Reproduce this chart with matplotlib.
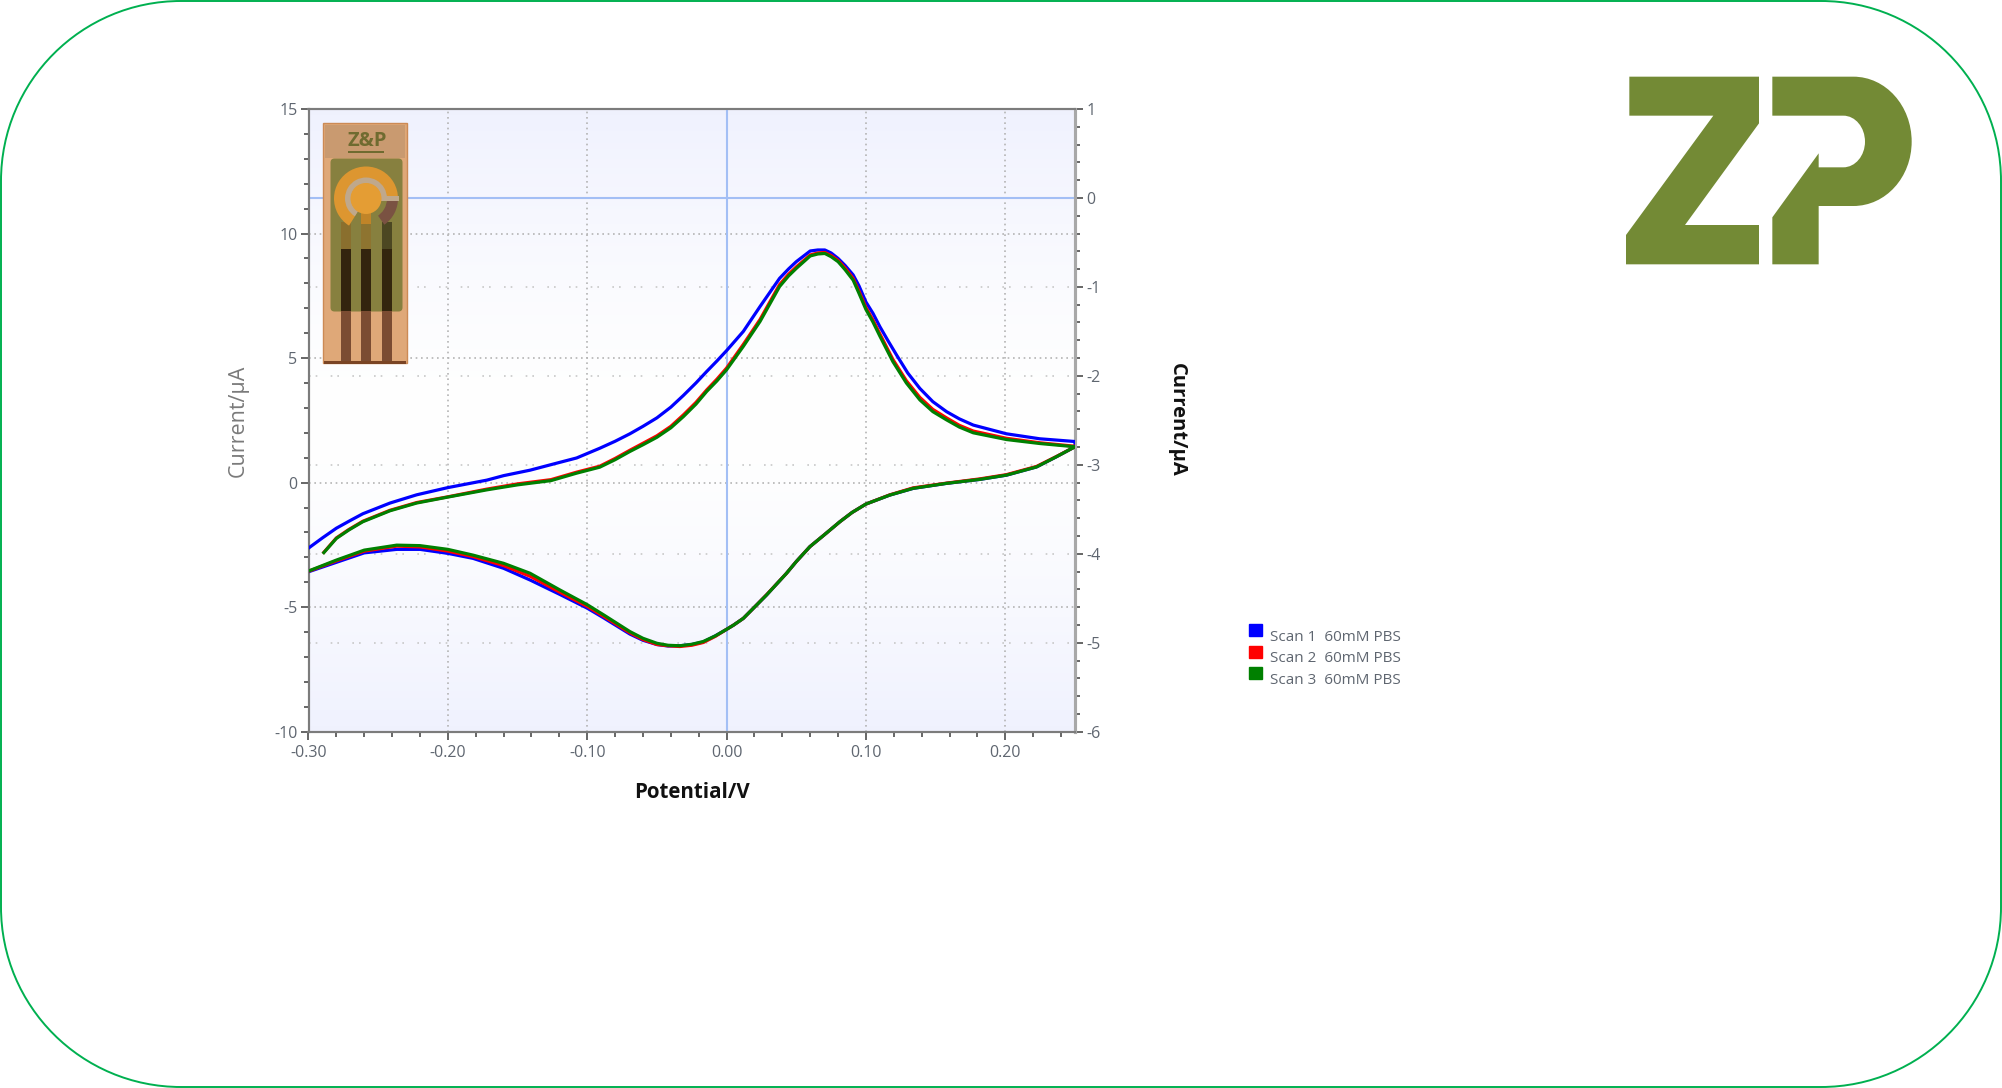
import numpy as np
import matplotlib
matplotlib.use('Agg')
import matplotlib.pyplot as plt
from matplotlib.patches import FancyBboxPatch, Rectangle, Circle, Wedge, Patch, PathPatch
from matplotlib.path import Path

W, H = 2002, 1088

# forward sweeps
blue_up_x = [-.3, -.29, -.28, -.27, -.261, -.2415, -.2224, -.2, -.172, -.16, -.141, -.122, -.1076,
             -.091, -.08, -.0694, -.06, -.05, -.04, -.031, -.022, -.0143, -.007, 0, .012, .024,
             .038, .0445, .05, .06, .0655, .0705, .075, .08, .085, .0908, .095, .1, .105, .11,
             .116, .122, .13, .1387, .148, .1578, .167, .177, .2008, .2247, .25]
blue_up_y = [-2.63, -2.22, -1.83, -1.52, -1.25, -.82, -.49, -.2, .1, .28, .5, .78, .99,
             1.38, 1.66, 1.96, 2.26, 2.6, 3.03, 3.5, 4.0, 4.46, 4.88, 5.3, 6.07, 7.07,
             8.2, 8.58, 8.87, 9.3, 9.34, 9.34, 9.22, 9.0, 8.72, 8.34, 7.9, 7.25, 6.8, 6.26,
             5.68, 5.12, 4.4, 3.78, 3.25, 2.85, 2.56, 2.31, 1.96, 1.76, 1.65]
rg_up_x = [-.289, -.28, -.271, -.261, -.2415, -.2224, -.2, -.172, -.15, -.126, -.1076, -.091,
           -.08, -.0694, -.06, -.05, -.04, -.031, -.022, -.0143, -.007, 0, .012, .024, .038,
           .0445, .05, .06, .0655, .0705, .075, .08, .085, .0908, .095, .1, .105, .11, .1193,
           .129, .1387, .148, .1578, .167, .177, .2008, .2247, .25]
red_up_y = [-2.8, -2.22, -1.88, -1.55, -1.11, -.8, -.57, -.26, -.05, .12, .42, .66,
            .97, 1.3, 1.58, 1.88, 2.26, 2.72, 3.22, 3.72, 4.15, 4.6, 5.55, 6.55, 7.95,
            8.37, 8.66, 9.14, 9.22, 9.24, 9.12, 8.92, 8.62, 8.2, 7.68, 7.03, 6.53, 5.97, 4.95,
            4.09, 3.42, 2.94, 2.6, 2.3, 2.07, 1.78, 1.6, 1.46]
green_up_y = [-2.81, -2.24, -1.9, -1.57, -1.13, -.82, -.58, -.29, -.09, .08, .38, .62,
              .92, 1.25, 1.52, 1.82, 2.2, 2.65, 3.15, 3.66, 4.08, 4.53, 5.47, 6.47, 7.87,
              8.3, 8.6, 9.1, 9.18, 9.2, 9.07, 8.87, 8.55, 8.13, 7.6, 6.95, 6.45, 5.88, 4.86,
              4.0, 3.32, 2.85, 2.52, 2.23, 2.0, 1.73, 1.57, 1.44]

# reverse sweeps
down_x = [.25, .2367, .2224, .2008, .1817, .1578, .1339, .1171, .1, .09, .0813, .07, .0598, .05,
          .043, .0287, .02, .012, .005, 0, -.008, -.0168, -.025, -.0335, -.042, -.05, -.06,
          -.0694, -.0885, -.1, -.1196, -.141, -.16, -.182, -.2, -.22, -.2367, -.26, -.28, -.3]
blue_down_y = [1.44, 1.04, .63, .3, .13, -.03, -.23, -.5, -.86, -1.2, -1.57, -2.1, -2.57, -3.17,
               -3.64, -4.51, -5.0, -5.45, -5.72, -5.89, -6.15, -6.4, -6.5, -6.55, -6.56, -6.5, -6.33,
               -6.08, -5.42, -5.04, -4.49, -3.91, -3.44, -3.04, -2.84, -2.68, -2.68, -2.82, -3.2, -3.58]
red_down_y = [1.44, 1.05, .65, .32, .15, -.02, -.21, -.49, -.86, -1.2, -1.57, -2.1, -2.57, -3.17,
              -3.64, -4.5, -5.0, -5.45, -5.72, -5.89, -6.17, -6.42, -6.53, -6.58, -6.55, -6.5, -6.3,
              -6.03, -5.36, -4.97, -4.4, -3.76, -3.33, -2.97, -2.75, -2.58, -2.55, -2.75, -3.14, -3.56]
green_down_y = [1.44, 1.04, .63, .3, .13, -.03, -.23, -.5, -.86, -1.2, -1.57, -2.1, -2.57, -3.17,
                -3.64, -4.51, -5.0, -5.45, -5.72, -5.89, -6.15, -6.38, -6.49, -6.55, -6.53, -6.45, -6.25,
                -5.98, -5.3, -4.9, -4.31, -3.64, -3.24, -2.91, -2.68, -2.53, -2.51, -2.71, -3.11, -3.55]

scan_labels = ['Scan 1  60mM PBS', 'Scan 2  60mM PBS', 'Scan 3  60mM PBS']
scan_colors = ['#0000ff', '#ff0000', '#008000']
x_ticks = [-0.30, -0.20, -0.10, 0.00, 0.10, 0.20]
left_ticks = [-10, -5, 0, 5, 10, 15]
right_ticks = [-6, -5, -4, -3, -2, -1, 0, 1]

TICK_GREY = '#5f6670'
FRAME = '#7c7c7c'
GRID = '#b4b4b4'
CROSS = '#a3bff5'
OLIVE = '#738a35'

plt.rcParams['font.family'] = ['Open Sans', 'DejaVu Sans']
plt.rcParams['axes.unicode_minus'] = False


def draw_chart(fig):
    ax = fig.add_axes([308.5 / W, 1 - 731.7 / H, (1075 - 308.5) / W, (731.7 - 109) / H])
    ax_r = ax.twinx()
    ax.set_zorder(ax_r.get_zorder() + 1)
    ax.patch.set_visible(False)

    # very light lavender wash, white through the middle
    wash = (np.abs(np.linspace(-1, 1, 200)) ** 1.4).reshape(-1, 1)
    wash_colors = np.ones((200, 1, 3))
    wash_colors[:, :, 0] = 1 - 0.06 * wash
    wash_colors[:, :, 1] = 1 - 0.052 * wash
    wash_colors[:, :, 2] = 1 - 0.004 * wash
    ax_r.imshow(wash_colors, extent=(0, 1, 0, 1), transform=ax_r.transAxes, aspect='auto', zorder=0)

    ax.set_xlim(-0.30, 0.25)
    ax.set_ylim(-10, 15)
    ax_r.set_ylim(-6, 1)

    ax.set_xticks(x_ticks)
    ax.set_xticklabels([f'{v:.2f}' for v in x_ticks])
    ax.set_xticks(np.arange(-0.30, 0.2501, 0.02), minor=True)
    ax.set_yticks(left_ticks)
    ax.set_yticks(np.arange(-10, 15.01, 1), minor=True)
    ax_r.set_yticks(right_ticks)
    ax_r.set_yticks(np.arange(-6, 1.01, 0.2), minor=True)

    for a in (ax, ax_r):
        a.tick_params(which='major', length=6, width=1.3, color='#5a5a5a', labelsize=11.5,
                      labelcolor=TICK_GREY, pad=2)
        a.tick_params(which='minor', length=3.5, width=1.3, color='#5a5a5a')
    ax.tick_params(axis='x', which='major', pad=3.5)
    for spine in list(ax.spines.values()) + list(ax_r.spines.values()):
        spine.set_color(FRAME)
        spine.set_linewidth(1.5)
    for a in (ax, ax_r):
        a.spines['right'].set_color('#a8a8a8')
        a.spines['right'].set_linewidth(2.2)

    for v in [-0.20, -0.10, 0.10, 0.20]:
        ax_r.axvline(v, color=GRID, lw=1.2, ls=(0, (1, 2.2)), zorder=1)
    for v in [-5, 0, 5, 10]:
        ax.axhline(v, color=GRID, lw=1.2, ls=(0, (1, 2.2)), zorder=1)
    for v in [-5, -4, -3, -2, -1]:
        ax_r.axhline(v, color='#c8c8c8', lw=1.2, ls=(0, (1, 3, 1, 8)), zorder=1)
    ax.axvline(0, color=CROSS, lw=1.5, zorder=1.5)
    ax_r.axhline(0, color=CROSS, lw=1.5, zorder=1.5)

    ax.plot(blue_up_x + down_x, blue_up_y + blue_down_y, color=scan_colors[0], lw=2.3, zorder=3)
    ax.plot(rg_up_x + down_x, red_up_y + red_down_y, color=scan_colors[1], lw=2.3, zorder=3.1)
    ax.plot(rg_up_x + down_x, green_up_y + green_down_y, color=scan_colors[2], lw=2.3, zorder=3.2)

    ax.set_xlabel('Potential/V', fontsize=14.8, fontweight='bold', color='#111111', labelpad=15)
    ax.set_ylabel('Current/μA', fontsize=15.5, color='#7a7a7a', labelpad=18)
    ax_r.set_ylabel('Current/μA', fontsize=14.5, fontweight='bold', color='#111111',
                    rotation=270, labelpad=62)

    handles = [Patch(facecolor=c, edgecolor=c) for c in scan_colors]
    leg = ax.legend(handles, scan_labels, loc='upper left', frameon=False, fontsize=11,
                    bbox_to_anchor=(1237 / W, 1 - 612 / H), bbox_transform=fig.transFigure,
                    handlelength=0.85, handleheight=0.85, handletextpad=0.5,
                    labelspacing=0.4, labelcolor=TICK_GREY, borderpad=0.3)
    for t in leg.get_texts():
        t.set_position((0, -5))


def frame_path(r=180):
    # rounded rectangle with true circular corners
    k = 0.5523 * r
    x0, y0, x1, y1 = 1, 1, W - 1, H - 1
    verts = [(x0 + r, y0), (x1 - r, y0),
             (x1 - r + k, y0), (x1, y0 + r - k), (x1, y0 + r),
             (x1, y1 - r),
             (x1, y1 - r + k), (x1 - r + k, y1), (x1 - r, y1),
             (x0 + r, y1),
             (x0 + r - k, y1), (x0, y1 - r + k), (x0, y1 - r),
             (x0, y0 + r),
             (x0, y0 + r - k), (x0 + r - k, y0), (x0 + r, y0)]
    codes = [Path.MOVETO, Path.LINETO,
             Path.CURVE4, Path.CURVE4, Path.CURVE4,
             Path.LINETO,
             Path.CURVE4, Path.CURVE4, Path.CURVE4,
             Path.LINETO,
             Path.CURVE4, Path.CURVE4, Path.CURVE4,
             Path.LINETO,
             Path.CURVE4, Path.CURVE4, Path.CURVE4]
    return Path(verts, codes)


def logo_path():
    verts = [(88, 50), (477, 50), (477, 190), (255, 495), (477, 495), (477, 613), (78, 613),
             (78, 525), (340, 167), (88, 167), (88, 50)]
    codes = [Path.MOVETO] + [Path.LINETO] * 9 + [Path.CLOSEPOLY]
    verts += [(517, 50), (760, 50), (857, 50), (935, 137), (935, 245), (935, 352), (857, 438),
              (760, 438), (656, 438), (656, 613), (517, 613), (517, 472), (656, 280), (656, 322),
              (730, 322), (766, 322), (795, 287), (795, 245), (795, 202), (766, 167), (730, 167),
              (517, 167), (517, 50)]
    codes += [Path.MOVETO, Path.LINETO, Path.CURVE4, Path.CURVE4, Path.CURVE4, Path.CURVE4,
              Path.CURVE4, Path.CURVE4, Path.LINETO, Path.LINETO, Path.LINETO, Path.LINETO,
              Path.LINETO, Path.LINETO, Path.LINETO, Path.CURVE4, Path.CURVE4, Path.CURVE4,
              Path.CURVE4, Path.CURVE4, Path.CURVE4, Path.LINETO, Path.CLOSEPOLY]
    verts = [(1600 + vx / 3, 60 + vy / 3) for vx, vy in verts]
    return Path(verts, codes)


def draw_chip(ov):
    # the sensor photo in the top-left of the plot, drawn from simple shapes
    ov.add_patch(Rectangle((323, 123), 84, 240, fc='#dfa878', ec='#cc8a55', lw=1, zorder=2))
    ov.add_patch(Rectangle((325, 125), 80, 33, fc='#c99a70', ec='none', zorder=2.1))
    ov.add_patch(FancyBboxPatch((332, 160), 69, 150, boxstyle='round,pad=1.5,rounding_size=4',
                                fc='#87803f', ec='none', zorder=2.2))
    ov.add_patch(Rectangle((324, 361), 82, 3, fc='#7a4424', ec='none', zorder=2.4))

    for x0, mid, low in [(341, '#8a6f2e', '#33240e'), (361, '#8e7430', '#33240e'),
                         (382, '#4c4722', '#33260e')]:
        ov.add_patch(Rectangle((x0, 222), 9.5, 27, fc=mid, ec='none', zorder=2.3))
        ov.add_patch(Rectangle((x0, 249), 9.5, 62, fc=low, ec='none', zorder=2.3))
        ov.add_patch(Rectangle((x0, 311), 9.5, 51, fc='#7b4c32', ec='none', zorder=2.3))

    cx, cy = 366, 198.5
    # y axis points down here, so wedge angles run clockwise on screen
    ov.add_patch(Wedge((cx, cy), 32, 122, 360, fc='#dd9630', ec='none', zorder=2.5))
    ov.add_patch(Wedge((cx, cy), 32, 0, 55, fc='#7a5242', ec='none', zorder=2.5))
    ov.add_patch(Wedge((cx, cy), 21, 0, 122, fc='#87803f', ec='none', zorder=2.55))
    ov.add_patch(Wedge((cx, cy), 21, 122, 360, width=6, fc='#bfa88c', ec='none', zorder=2.6))
    ov.add_patch(Rectangle((cx + 15, cy - 2.5), 18, 5, fc='#bfa88c', ec='none', zorder=2.6))
    ov.add_patch(Rectangle((361, 210), 9.5, 14, fc='#c08428', ec='none', zorder=2.6))
    ov.add_patch(Circle((cx, cy), 15.5, fc='#e49d34', ec='none', zorder=2.7))

    ov.text(367, 141, 'Z&P', color='#6f6b30', fontsize=14.5, fontweight='bold',
            ha='center', va='center', zorder=3)
    ov.add_patch(Rectangle((348, 151), 36, 2, fc='#6f6b30', ec='none', zorder=3))


def main():
    fig = plt.figure(figsize=(W / 100, H / 100), dpi=100, facecolor='white')
    draw_chart(fig)

    # pixel-coordinate overlay for the frame, the logo and the photo
    ov = fig.add_axes([0, 0, 1, 1], zorder=10)
    ov.set_xlim(0, W)
    ov.set_ylim(H, 0)
    ov.axis('off')
    ov.add_patch(PathPatch(frame_path(), fc='none', ec='#00b050', lw=1.4))
    ov.add_patch(PathPatch(logo_path(), fc=OLIVE, ec='none'))
    draw_chip(ov)

    fig.savefig('out.png', dpi=100)


if __name__ == '__main__':
    main()
